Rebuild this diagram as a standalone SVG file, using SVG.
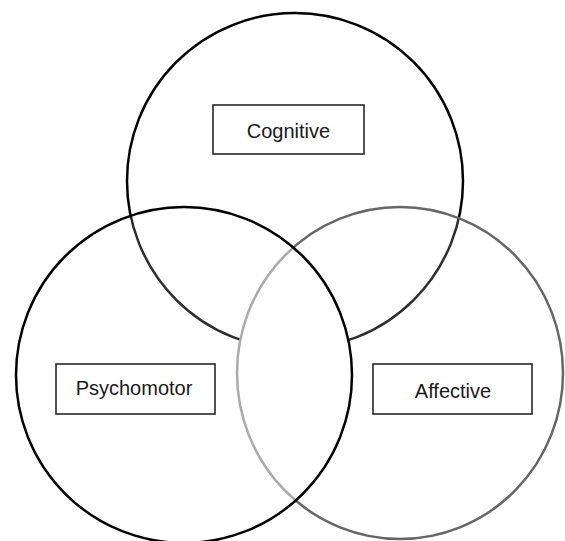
<svg xmlns="http://www.w3.org/2000/svg" width="565" height="541" viewBox="0 0 565 541">
  <style>
    .ring { fill: none; stroke-width: 2.5; }
    .box { fill: #ffffff; stroke: #1a1a1a; stroke-width: 1.5; }
    .lbl { font-family: "Liberation Sans", Arial, sans-serif; font-size: 20px; fill: #1a1a1a; text-anchor: middle; }
  </style>
  <defs>
    <clipPath id="cRight"><ellipse cx="400" cy="373" rx="163" ry="166"/></clipPath>
    <mask id="mOut" maskUnits="userSpaceOnUse" x="0" y="0" width="565" height="541">
      <rect x="0" y="0" width="565" height="541" fill="#fff"/>
      <circle cx="184" cy="375" r="168" fill="#000"/>
      <ellipse cx="400" cy="373" rx="163" ry="166" fill="#000"/>
    </mask>
    <mask id="mXor" maskUnits="userSpaceOnUse" x="0" y="0" width="565" height="541">
      <rect x="0" y="0" width="565" height="541" fill="#000"/>
      <circle cx="184" cy="375" r="168" fill="#fff"/>
      <ellipse cx="400" cy="373" rx="163" ry="166" fill="#fff"/>
      <circle cx="184" cy="375" r="168" fill="#000" clip-path="url(#cRight)"/>
    </mask>
    <mask id="mInL" maskUnits="userSpaceOnUse" x="0" y="0" width="565" height="541">
      <rect x="0" y="0" width="565" height="541" fill="#000"/>
      <circle cx="184" cy="375" r="168" fill="#fff"/>
    </mask>
    <mask id="mOutL" maskUnits="userSpaceOnUse" x="0" y="0" width="565" height="541">
      <rect x="0" y="0" width="565" height="541" fill="#fff"/>
      <circle cx="184" cy="375" r="168" fill="#000"/>
    </mask>
  </defs>
  <rect x="0" y="0" width="565" height="541" fill="#ffffff"/>

  <g id="cognitive">
    <circle class="ring" cx="295" cy="181" r="168" stroke="#000" mask="url(#mOut)"/>
    <circle class="ring" cx="295" cy="181" r="168" stroke="#2e2e2e" mask="url(#mXor)"/>
    <rect class="box" x="213" y="105" width="151" height="49"/>
    <text class="lbl" x="288.5" y="138">Cognitive</text>
  </g>

  <g id="affective">
    <ellipse class="ring" cx="400" cy="373" rx="163" ry="166" stroke="#666" stroke-width="2.2" mask="url(#mOutL)"/>
    <ellipse class="ring" cx="400" cy="373" rx="163" ry="166" stroke="#aaa" stroke-width="2.2" mask="url(#mInL)"/>
    <rect class="box" x="373" y="364" width="159" height="50"/>
    <text class="lbl" x="453" y="398">Affective</text>
  </g>

  <g id="psychomotor">
    <circle class="ring" cx="184" cy="375" r="168" stroke="#000"/>
    <rect class="box" x="56" y="364" width="159" height="50"/>
    <text class="lbl" x="134" y="395">Psychomotor</text>
  </g>

  <g id="connectors"></g>
</svg>
